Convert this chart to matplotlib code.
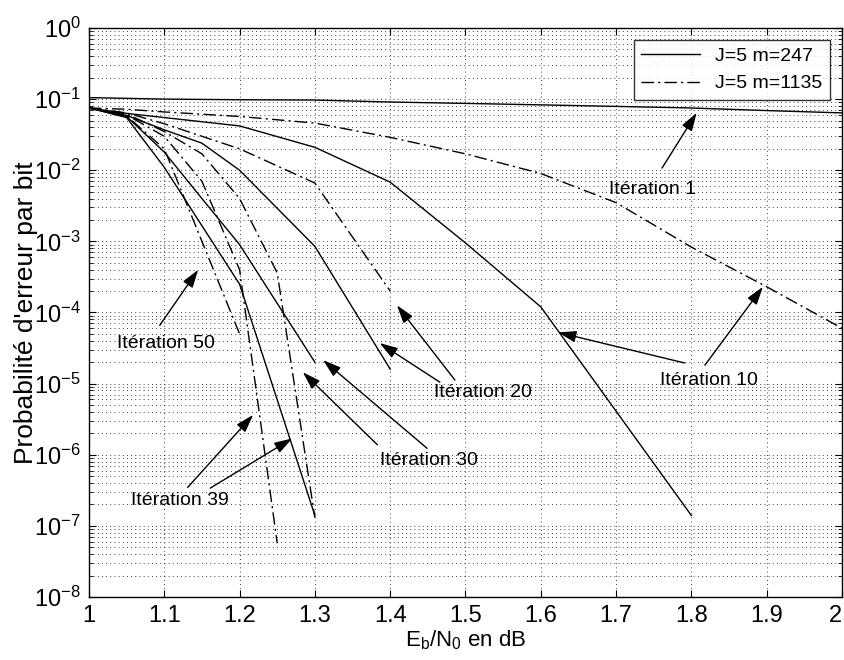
import matplotlib
matplotlib.use("Agg")
import matplotlib.pyplot as plt
from matplotlib.ticker import LogLocator, NullFormatter

plt.rcParams['font.family'] = ['Liberation Sans', 'DejaVu Sans']
plt.rcParams['mathtext.fontset'] = 'custom'
plt.rcParams['mathtext.rm'] = 'Liberation Sans'
plt.rcParams['mathtext.it'] = 'Liberation Sans:italic'

# Eb/N0 (dB) and bit error rate for each decoder run
# J=5 m=247 (solid)
x_s1 = [1.0, 1.1, 1.2, 1.3, 1.4, 1.5, 1.6, 1.7, 1.8, 1.9, 2.0]
y_s1 = [0.105, 0.100, 0.098, 0.097, 0.091, 0.087, 0.083, 0.079, 0.075, 0.069, 0.064]
x_s10 = [1.0, 1.05, 1.1, 1.2, 1.3, 1.4, 1.5, 1.6, 1.8]
y_s10 = [0.075, 0.063, 0.055, 0.042, 0.021, 6.8e-3, 9.5e-4, 1.2e-4, 1.4e-7]
x_s20 = [1.0, 1.05, 1.1, 1.15, 1.2, 1.3, 1.4]
y_s20 = [0.075, 0.059, 0.037, 0.024, 1.0e-2, 8.5e-4, 1.6e-5]
x_s30 = [1.0, 1.05, 1.1, 1.15, 1.2, 1.3]
y_s30 = [0.075, 0.057, 0.018, 4.0e-3, 9.0e-4, 2.0e-5]
x_s39 = [1.0, 1.05, 1.1, 1.2, 1.3]
y_s39 = [0.075, 0.055, 0.011, 2.5e-4, 1.4e-7]

# J=5 m=1135 (dash-dot)
x_d10 = [1.0, 1.05, 1.1, 1.2, 1.3, 1.4, 1.5, 1.6, 1.7, 1.8, 1.9, 2.0]
y_d10 = [0.075, 0.072, 0.066, 0.057, 0.046, 0.029, 0.017, 9.0e-3, 3.5e-3, 8.3e-4, 2.3e-4, 6.0e-5]
x_d20 = [1.0, 1.05, 1.1, 1.2, 1.3, 1.4]
y_d20 = [0.075, 0.064, 0.045, 0.020, 6.6e-3, 2.0e-4]
x_d30 = [1.0, 1.05, 1.1, 1.15, 1.2, 1.25, 1.3]
y_d30 = [0.075, 0.062, 0.035, 0.017, 4.0e-3, 3.6e-4, 1.3e-7]
x_d39 = [1.0, 1.05, 1.1, 1.15, 1.2, 1.25]
y_d39 = [0.075, 0.060, 0.030, 7.0e-3, 4.0e-4, 5.7e-8]
x_d50 = [1.0, 1.05, 1.1, 1.2]
y_d50 = [0.075, 0.058, 0.020, 5.0e-5]

solid_runs = [(x_s1, y_s1), (x_s10, y_s10), (x_s20, y_s20), (x_s30, y_s30), (x_s39, y_s39)]
dash_runs = [(x_d10, y_d10), (x_d20, y_d20), (x_d30, y_d30), (x_d39, y_d39), (x_d50, y_d50)]

legend_labels = ['J=5 m=247', 'J=5 m=1135']
ytick_exps = list(range(-8, 1))
xticks = [1.0, 1.1, 1.2, 1.3, 1.4, 1.5, 1.6, 1.7, 1.8, 1.9, 2.0]
xtick_labels = ['1', '1.1', '1.2', '1.3', '1.4', '1.5', '1.6', '1.7', '1.8', '1.9', '2']

fig = plt.figure(figsize=(8.45, 6.6), dpi=100)
ax = fig.add_axes([0.1053, 0.0955, 0.8911, 0.8621])

dashdot = (0, (9, 3, 1.5, 3))
for i, (xs, ys) in enumerate(solid_runs):
    ax.plot(xs, ys, color='black', lw=1.0, label=legend_labels[0] if i == 0 else None)
for i, (xs, ys) in enumerate(dash_runs):
    ax.plot(xs, ys, color='black', lw=1.0, linestyle=dashdot,
            label=legend_labels[1] if i == 0 else None)

ax.set_yscale('log')
ax.set_xlim(1, 2)
ax.set_ylim(1e-8, 1)
ax.set_yticks([10.0 ** e for e in ytick_exps])
ax.set_yticklabels([r'$10^{%d}$' % e for e in ytick_exps])
ax.yaxis.set_minor_locator(LogLocator(base=10, subs=range(2, 10), numticks=20))
ax.yaxis.set_minor_formatter(NullFormatter())
ax.set_xticks(xticks)
ax.set_xticklabels(xtick_labels)
ax.get_xticklabels()[-1].set_horizontalalignment('right')

ax.grid(True, which='major', axis='both', color='black', linestyle=(0, (1, 4)), lw=0.6)
ax.grid(True, which='minor', axis='y', color='black', linestyle=(0, (1, 4)), lw=0.6)
ax.tick_params(axis='both', which='both', direction='in', labelsize=17, top=True, right=True)
ax.tick_params(axis='both', which='major', length=5, pad=6)
ax.tick_params(axis='y', which='minor', length=3)
for s in ax.spines.values():
    s.set_linewidth(1.0)

ax.set_xlabel(r'E$_\mathregular{b}$/N$_\mathregular{0}$ en dB', fontsize=16, labelpad=1)
ax.set_ylabel("Probabilité d'erreur par bit", fontsize=19, labelpad=-3)

leg = ax.legend(loc='upper right', fontsize=14, frameon=True, fancybox=False,
                edgecolor='black', borderaxespad=0.6, handlelength=3.0)
leg.get_frame().set_linewidth(1.0)

arrow_kw = dict(arrowstyle='-|>,head_length=1.1,head_width=0.35', color='black', lw=1.0,
                shrinkA=0, shrinkB=0)

def arrow(tip, tail):
    ax.annotate('', xy=tip, xytext=tail, arrowprops=arrow_kw)

ax.text(1.749, 5.3e-3, 'Itération 1', fontsize=14, ha='center', va='center')
arrow((1.807, 0.064), (1.761, 10 ** -1.97))

ax.text(1.823, 1.1e-5, 'Itération 10', fontsize=14, ha='center', va='center')
arrow((1.623, 10 ** -4.28), (1.791, 10 ** -4.71))
arrow((1.895, 10 ** -3.64), (1.818, 10 ** -4.74))

ax.text(1.523, 10 ** -5.12, 'Itération 20', fontsize=14, ha='center', va='center')
arrow((1.386, 10 ** -4.43), (1.466, 10 ** -4.98))
arrow((1.409, 10 ** -3.90), (1.486, 10 ** -4.95))

ax.text(1.452, 10 ** -6.08, 'Itération 30', fontsize=14, ha='center', va='center')
arrow((1.284, 10 ** -4.84), (1.383, 10 ** -5.86))
arrow((1.311, 10 ** -4.67), (1.449, 10 ** -5.91))

ax.text(1.121, 10 ** -6.64, 'Itération 39', fontsize=14, ha='center', va='center')
arrow((1.218, 10 ** -5.44), (1.131, 10 ** -6.46))
arrow((1.270, 10 ** -5.77), (1.161, 10 ** -6.47))

ax.text(1.102, 10 ** -4.43, 'Itération 50', fontsize=14, ha='center', va='center')
arrow((1.145, 10 ** -3.40), (1.094, 10 ** -4.18))

fig.savefig('out.png', dpi=100)
